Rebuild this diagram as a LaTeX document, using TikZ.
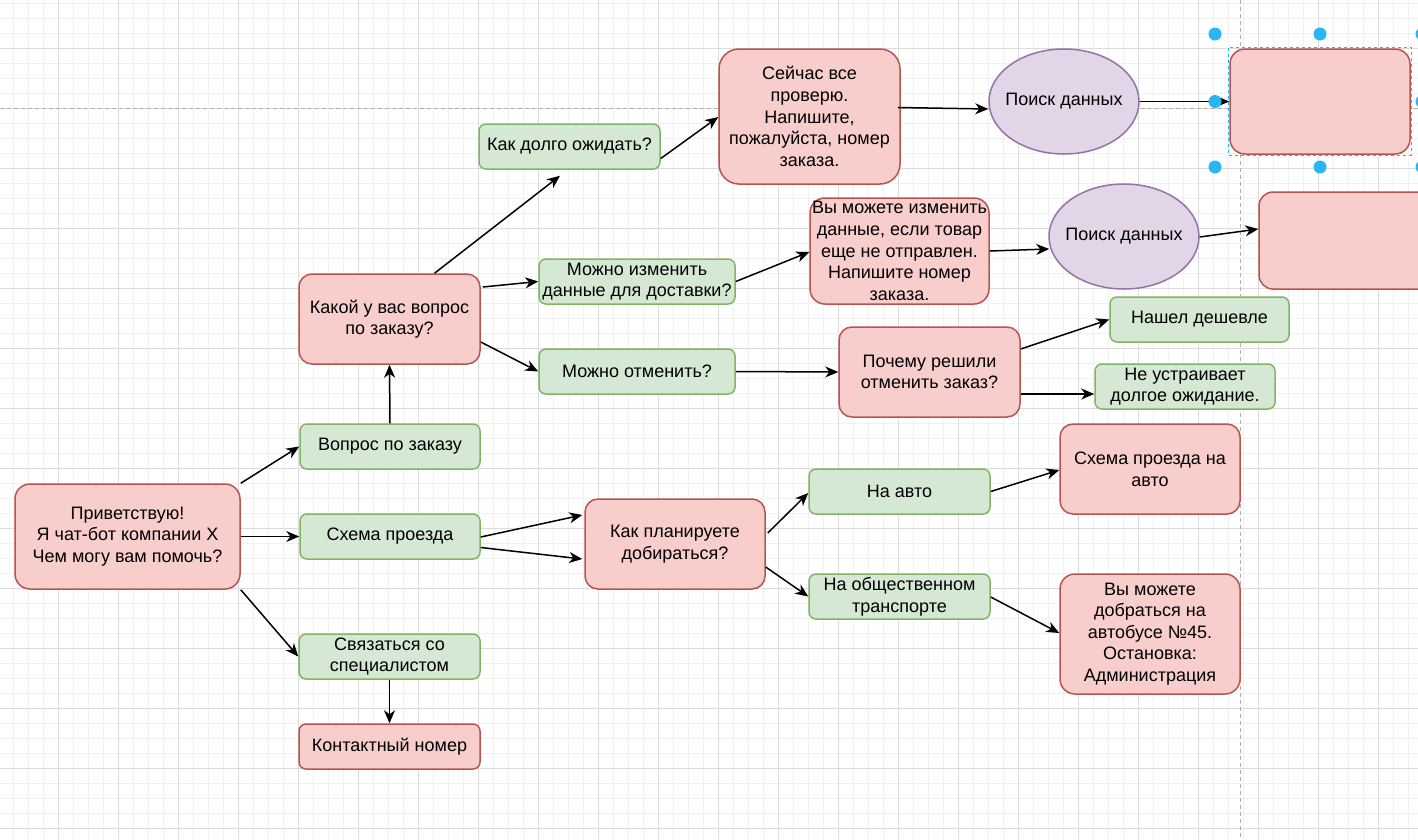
\documentclass[tikz,border=0pt]{standalone}
\usepackage{fontspec}
\setmainfont{Liberation Sans}
\usetikzlibrary{calc,arrows.meta,shapes.geometric}
\definecolor{rfill}{HTML}{F8CECC}\definecolor{rdraw}{HTML}{B85450}
\definecolor{gfill}{HTML}{D5E8D4}\definecolor{gdraw}{HTML}{82B366}
\definecolor{pfill}{HTML}{E1D5E7}\definecolor{pdraw}{HTML}{9673A6}
\definecolor{selblue}{HTML}{29B6F2}
\definecolor{gmaj}{HTML}{DCDCDC}\definecolor{gmin}{HTML}{F1F1F1}
\definecolor{guide}{HTML}{AFAFAF}
\begin{document}
\begin{tikzpicture}[x=1pt,y=-1pt,
  font=\fontsize{18}{21.6}\selectfont,
  redbox/.style={draw=rdraw,fill=rfill,line width=1.5pt,align=center,inner sep=0pt},
  greenbox/.style={draw=gdraw,fill=gfill,line width=1.5pt,align=center,inner sep=0pt,rounded corners=7pt,minimum height=45pt},
  oval/.style={ellipse,draw=pdraw,fill=pfill,line width=1.5pt,align=center,inner sep=0pt,minimum width=150pt,minimum height=105pt},
  link/.style={line width=1.5pt,-{Stealth[length=13pt,width=11pt,inset=4pt]}},
  guideline/.style={guide,line width=1pt,dash pattern=on 4pt off 3pt}]
\useasboundingbox (0,0) rectangle (1418,839);
\clip (0,0) rectangle (1418,839);
\fill[white] (0,0) rectangle (1418,839);
% grid
\foreach \x in {13,28,...,1418} \draw[gmin,line width=1pt] (\x,0) -- (\x,839);
\foreach \y in {3,18,...,839} \draw[gmin,line width=1pt] (0,\y) -- (1418,\y);
\foreach \x in {58,118,...,1418} \draw[gmaj,line width=1pt] (\x,0) -- (\x,839);
\foreach \y in {48,108,...,839} \draw[gmaj,line width=1pt] (0,\y) -- (1418,\y);
% guides
\draw[guideline] (0,108) -- (1418,108);
\draw[guideline] (1240,0) -- (1240,839);

% nodes
\node[redbox,minimum width=225pt,minimum height=105pt,rounded corners=15pt] (greet) at (127.5,536.5) {Приветствую!\\Я чат-бот компании Х\\Чем могу вам помочь?};
\node[greenbox,minimum width=180pt] (vq) at (390,446.5) {Вопрос по заказу};
\node[greenbox,minimum width=180pt] (shp) at (390,536.5) {Схема проезда};
\node[greenbox,minimum width=181pt] (svz) at (389.5,656.5) {Связаться со\\специалистом};
\node[redbox,minimum width=181pt,minimum height=45pt,rounded corners=7pt] (kont) at (389.5,746.5) {Контактный номер};
\node[redbox,minimum width=181pt,minimum height=90pt,rounded corners=13pt] (kak) at (389.5,319) {Какой у вас вопрос\\по заказу?};
\node[greenbox,minimum width=181pt] (dolgo) at (569.5,146.5) {Как долго ожидать?};
\node[greenbox,minimum width=196pt] (mozh) at (637,281.5) {Можно изменить\\данные для доставки?};
\node[greenbox,minimum width=196pt] (otm) at (637,371.5) {Можно отменить?};
\node[redbox,minimum width=181pt,minimum height=135pt,rounded corners=20pt] (seich) at (809.5,116.5) {Сейчас все\\проверю.\\Напишите,\\пожалуйста, номер\\заказа.};
\node[oval] (p1) at (1064,101.5) {\makebox[0pt]{Поиск данных}};
\node[redbox,minimum width=180pt,minimum height=105pt,rounded corners=15pt] (selbox) at (1320,101.5) {};
\node[redbox,minimum width=179pt,minimum height=106pt,rounded corners=15pt] (vym) at (899.5,251) {Вы можете изменить\\данные, если товар\\еще не отправлен.\\Напишите номер\\заказа.};
\node[oval] (p2) at (1124,236.5) {\makebox[0pt]{Поиск данных}};
\node[redbox,minimum width=180pt,minimum height=97pt,rounded corners=14pt] (box2) at (1349,240.5) {};
\node[redbox,minimum width=181pt,minimum height=90pt,rounded corners=13pt] (poch) at (929.5,372) {Почему решили\\отменить заказ?};
\node[greenbox,minimum width=179pt] (nash) at (1199.5,319.5) {Нашел дешевле};
\node[greenbox,minimum width=180pt] (neust) at (1185,386.5) {Не устраивает\\долгое ожидание.};
\node[redbox,minimum width=180pt,minimum height=90pt,rounded corners=13pt] (plan) at (675,544) {Как планируете\\добираться?};
\node[greenbox,minimum width=181pt] (avto) at (899.5,491.5) {На авто};
\node[greenbox,minimum width=181pt] (obsh) at (899.5,596.5) {На общественном\\транспорте};
\node[redbox,minimum width=180pt,minimum height=90pt,rounded corners=13pt] (shav) at (1150,469) {Схема проезда на\\авто};
\node[redbox,minimum width=180pt,minimum height=120pt,rounded corners=15pt] (dob) at (1150,634) {Вы можете\\добраться на\\автобусе №45.\\Остановка:\\Администрация};

% connectors
\draw[link] (greet.north east) -- (vq.west);
\draw[link] (greet.east) -- (shp.west);
\draw[link] (greet.south east) -- (svz.west);
\draw[link] (vq.north) -- (kak.south);
\draw[link] (svz.south) -- (kont.north);
\draw[link] ($(kak.north)+(45,0)$) -- ($(dolgo.south)+(-9.5,6)$);
\draw[link] ($(kak.east)+(2,-32)$) -- (mozh.west);
\draw[link] ($(kak.east)+(0,23)$) -- (otm.west);
\draw[link] ($(dolgo.east)+(0,12)$) -- ($(seich.west)+(0,0.5)$);
\draw[link] ($(seich.east)+(-3,-9)$) -- ($(p1.west)+(0,7.5)$);
\draw[link] (p1.east) -- (selbox.west);
\draw[link] (mozh.east) -- ($(vym.west)+(0,1)$);
\draw[link] (vym.east) -- ($(p2.west)+(1,12.5)$);
\draw[link] ($(p2.east)+(0,0.5)$) -- ($(box2.west)+(0,-11.5)$);
\draw[link] (otm.east) -- (poch.west);
\draw[link] ($(poch.east)+(0,-23)$) -- (nash.west);
\draw[link] ($(poch.east)+(0,22)$) -- ($(neust.west)+(0,7.5)$);
\draw[link] ($(shp.east)+(0,0.5)$) -- ($(plan.west)+(-2,-29)$);
\draw[link] ($(shp.east)+(0,11)$) -- ($(plan.west)+(-2,15)$);
\draw[link] ($(plan.east)+(2,-11)$) -- ($(avto.west)+(0,1.5)$);
\draw[link] ($(plan.east)+(0,23)$) -- (obsh.west);
\draw[link] (avto.east) -- ($(shav.west)+(0,1)$);
\draw[link] ($(obsh.east)+(0,0.5)$) -- ($(dob.west)+(0,-1)$);

% selection
\draw[selblue,line width=1pt,dash pattern=on 3pt off 3pt] ($(selbox.north west)+(-0.5,-0.5)$) rectangle ($(selbox.south east)+(0.5,0.5)$);
\foreach \hx/\hy in {1215/34,1320/34,1422/34,1215/101.5,1422/101.5,1215/167,1320/167,1422/167}
  \fill[selblue] (\hx,\hy) circle[radius=6.5pt];
\end{tikzpicture}
\end{document}
